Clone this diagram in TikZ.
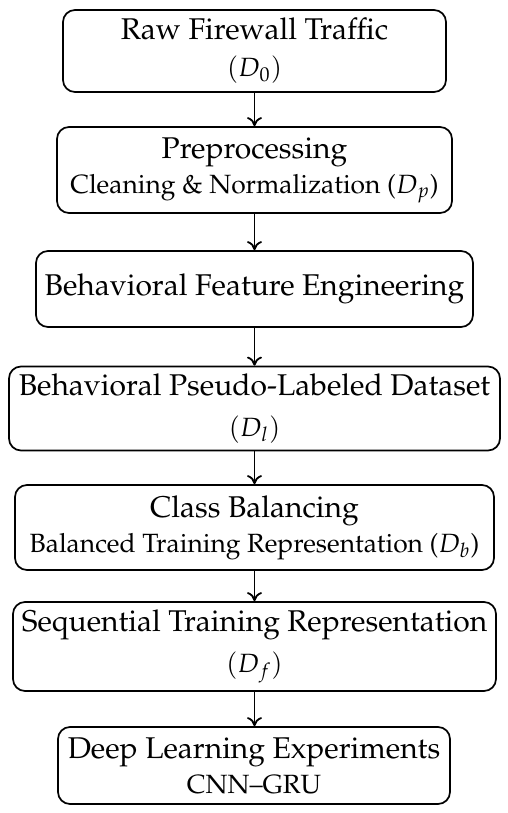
\documentclass[tikz,border=0pt]{standalone}
\usepackage[T1]{fontenc}
\usepackage{mathpazo}
\usetikzlibrary{arrows.meta}
\tikzset{
  stagebox/.style={draw, line width=0.85pt, rounded corners=6pt, align=center, inner sep=0pt, font=\fontsize{15}{17.5}\selectfont},
  flow/.style={-{To[length=4.5pt,width=7.5pt]}, line width=0.9pt}
}
\newcommand{\subline}{\fontsize{13.2}{17.5}\selectfont}
\begin{document}
\begin{tikzpicture}[x=0.5pt,y=-0.5pt]
\useasboundingbox (0,0) rectangle (508,813);
\node[stagebox, minimum width=191.5pt, minimum height=41pt] (b1) at (254.5,51) {Raw Firewall Traffic\\[1pt] {\subline $(D_0)$}};
\node[stagebox, minimum width=197.5pt, minimum height=43pt] (b2) at (254.5,170) {Preprocessing\\ {\subline Cleaning \& Normalization ($D_p$)}};
\node[stagebox, minimum width=218.5pt, minimum height=38pt] (b3) at (254.5,289) {Behavioral Feature Engineering};
\node[stagebox, minimum width=245.5pt, minimum height=42pt] (b4) at (254.5,408.5) {Behavioral Pseudo-Labeled Dataset\\[3pt] {\subline $(D_l)$}};
\node[stagebox, minimum width=239.5pt, minimum height=42.5pt] (b5) at (254.5,527.5) {Class Balancing\\ {\subline Balanced Training Representation ($D_b$)}};
\node[stagebox, minimum width=241.5pt, minimum height=44.5pt] (b6) at (254.5,646.5) {Sequential Training Representation\\[3pt] {\subline $(D_f)$}};
\node[stagebox, minimum width=196pt, minimum height=38.5pt] (b7) at (254,765.5) {Deep Learning Experiments\\ {\subline CNN--GRU}};
\draw[flow] (b1) -- (b2);
\draw[flow] (b2) -- (b3);
\draw[flow] (b3) -- (b4);
\draw[flow] (b4) -- (b5);
\draw[flow] (b5) -- (b6);
\draw[flow] (b6.south) -- (b7.north -| b6.south);
\end{tikzpicture}
\end{document}
